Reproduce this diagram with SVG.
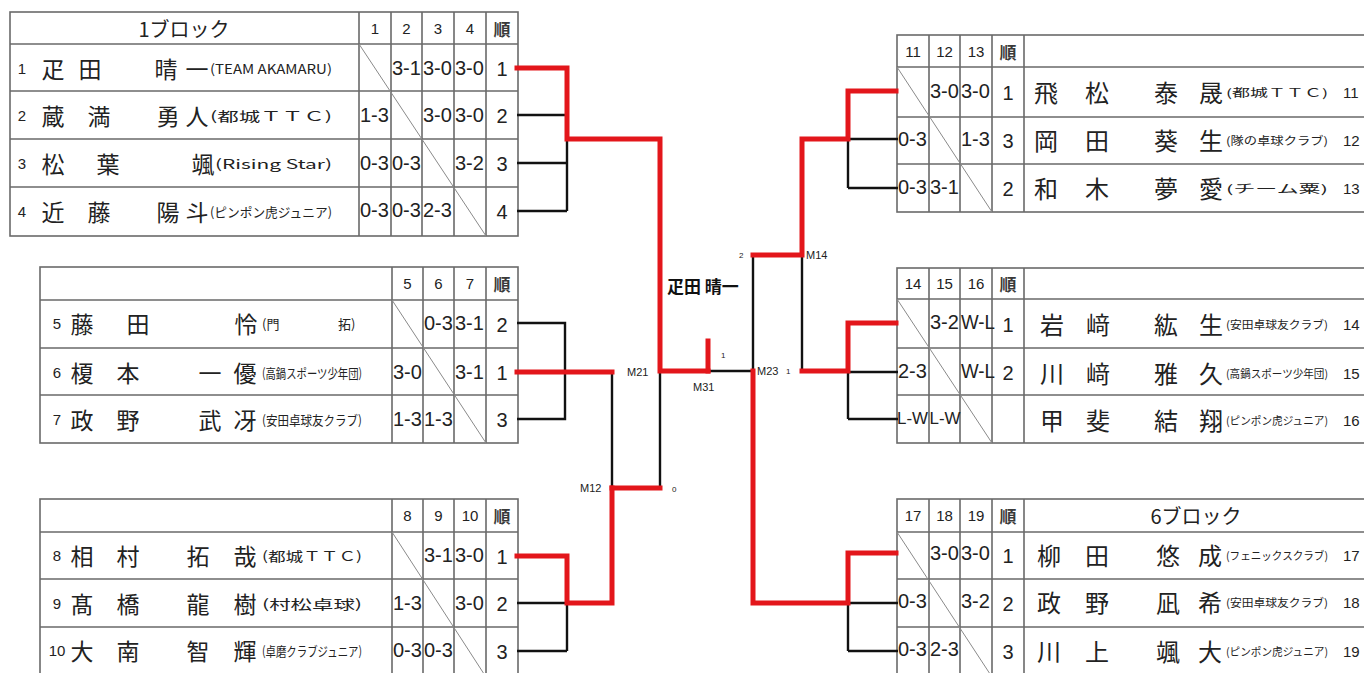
<svg xmlns="http://www.w3.org/2000/svg" width="1364" height="673" viewBox="0 0 1364 673">
<style>
.grid{stroke:#6a6a6a;stroke-width:1.6;fill:none}
.diag{stroke:#8a8a8a;stroke-width:1}
.sc{font-family:"Liberation Sans",Arial,sans-serif;font-size:20px;fill:#222;dominant-baseline:central}
.scw{font-family:"Liberation Sans",Arial,sans-serif;font-size:17px;fill:#222;dominant-baseline:central}
.hd{font-family:"Liberation Sans",Arial,sans-serif;font-size:15px;fill:#222;text-anchor:middle;dominant-baseline:central}
.jun{font-family:"Noto Sans CJK JP",sans-serif;font-size:17px;font-weight:bold;fill:#3a3a3a;text-anchor:middle;dominant-baseline:central}
.rk{font-family:"Liberation Sans",Arial,sans-serif;font-size:20px;fill:#222;text-anchor:middle;dominant-baseline:central}
.num{font-family:"Liberation Sans",Arial,sans-serif;font-size:15px;fill:#222;text-anchor:middle;dominant-baseline:central}
.numr{font-family:"Liberation Sans",Arial,sans-serif;font-size:15px;fill:#222;dominant-baseline:central}
.nm{font-family:"Noto Sans CJK JP",sans-serif;font-size:23px;fill:#222;text-anchor:middle;dominant-baseline:central}
.nmr{font-family:"Noto Sans CJK JP",sans-serif;font-size:24px;fill:#222;text-anchor:middle;dominant-baseline:central}
.af{font-family:"Noto Sans CJK JP",sans-serif;font-size:13px;fill:#222;dominant-baseline:central}
.afr{font-family:"Noto Sans CJK JP",sans-serif;font-size:11px;fill:#222;dominant-baseline:central}
.ttl{font-family:"Noto Sans CJK JP",sans-serif;font-size:20px;fill:#222;text-anchor:middle;dominant-baseline:central}
.red{stroke:#e3161b;stroke-width:5;fill:none;stroke-linecap:square;stroke-linejoin:miter}
.blk{stroke:#111;stroke-width:2.4;fill:none}
.lbl{font-family:"Liberation Sans",Arial,sans-serif;font-size:11px;fill:#222;dominant-baseline:central}
.tiny{font-family:"Liberation Sans",Arial,sans-serif;font-size:8px;fill:#222;dominant-baseline:central}
.win{font-family:"Noto Sans CJK JP",sans-serif;font-size:17px;font-weight:bold;fill:#111;dominant-baseline:central}
</style>
<rect width="1364" height="673" fill="#fff"/>

<g id="block1">
<rect x="10" y="12" width="508" height="224" class="grid"/>
<path class="grid" d="M10 44H518M10 91H518M10 139H518M10 187H518M359 12V236M391 12V236M422 12V236M454 12V236M486 12V236"/>
<line class="diag" x1="359" y1="44" x2="486" y2="236"/>
<text class="ttl" x="184" y="28">1ブロック</text>
<text class="hd" x="375" y="28">1</text><text class="hd" x="406.5" y="28">2</text><text class="hd" x="438" y="28">3</text><text class="hd" x="470" y="28">4</text><text class="jun" x="502" y="28">順</text>
<text class="num" x="22" y="68">1</text><text class="nm" x="53" y="68">疋</text><text class="nm" x="90" y="68">田</text><text class="nm" x="166" y="68">晴</text><text class="nm" x="197" y="68">一</text><text class="af" x="210" y="68" textLength="122" lengthAdjust="spacingAndGlyphs">(TEAM AKAMARU)</text>
<text class="num" x="22" y="115">2</text><text class="nm" x="53" y="115">蔵</text><text class="nm" x="99" y="115">満</text><text class="nm" x="168" y="115">勇</text><text class="nm" x="197" y="115">人</text><text class="af" x="210" y="115" textLength="122" lengthAdjust="spacingAndGlyphs">(都城ＴＴＣ)</text>
<text class="num" x="22" y="163">3</text><text class="nm" x="53" y="163">松</text><text class="nm" x="108" y="163">葉</text><text class="nm" x="203" y="163">颯</text><text class="af" x="215" y="163" textLength="117" lengthAdjust="spacingAndGlyphs">(Rising Star)</text>
<text class="num" x="22" y="211">4</text><text class="nm" x="53" y="211">近</text><text class="nm" x="99" y="211">藤</text><text class="nm" x="168" y="211">陽</text><text class="nm" x="197" y="211">斗</text><text class="af" x="210" y="211" textLength="122" lengthAdjust="spacingAndGlyphs">(ピンポン虎ジュニア)</text>
<text class="sc" x="392" y="68">3-1</text><text class="sc" x="423" y="68">3-0</text><text class="sc" x="455" y="68">3-0</text><text class="rk" x="502" y="69">1</text>
<text class="sc" x="360" y="115">1-3</text><text class="sc" x="423" y="115">3-0</text><text class="sc" x="455" y="115">3-0</text><text class="rk" x="502" y="116">2</text>
<text class="sc" x="360" y="163">0-3</text><text class="sc" x="392" y="163">0-3</text><text class="sc" x="455" y="163">3-2</text><text class="rk" x="502" y="164">3</text>
<text class="sc" x="360" y="210">0-3</text><text class="sc" x="392" y="210">0-3</text><text class="sc" x="423" y="210">2-3</text><text class="rk" x="502" y="212">4</text>
</g>

<g id="block2">
<rect x="40" y="267" width="478" height="176" class="grid"/>
<path class="grid" d="M40 300H518M40 348H518M40 395H518M392 267V443M423 267V443M454 267V443M486 267V443"/>
<line class="diag" x1="392" y1="300" x2="486" y2="443"/>
<text class="hd" x="407.5" y="283">5</text><text class="hd" x="438.5" y="283">6</text><text class="hd" x="470" y="283">7</text><text class="jun" x="502" y="283">順</text>
<text class="num" x="57" y="323">5</text><text class="nm" x="82" y="323">藤</text><text class="nm" x="138" y="323">田</text><text class="nm" x="246" y="323">怜</text><text class="af" x="262" y="323">(門</text><text class="af" x="338" y="323">拓)</text>
<text class="num" x="57" y="372">6</text><text class="nm" x="82" y="372">榎</text><text class="nm" x="128" y="372">本</text><text class="nm" x="210" y="372">一</text><text class="nm" x="245" y="372">優</text><text class="af" x="262" y="372" textLength="100" lengthAdjust="spacingAndGlyphs">(高鍋スポーツ少年団)</text>
<text class="num" x="57" y="419">7</text><text class="nm" x="82" y="419">政</text><text class="nm" x="128" y="419">野</text><text class="nm" x="210" y="419">武</text><text class="nm" x="245" y="419">冴</text><text class="af" x="262" y="419" textLength="100" lengthAdjust="spacingAndGlyphs">(安田卓球友クラブ)</text>
<text class="sc" x="424" y="323">0-3</text><text class="sc" x="455" y="323">3-1</text><text class="rk" x="502" y="325">2</text>
<text class="sc" x="393" y="372">3-0</text><text class="sc" x="455" y="372">3-1</text><text class="rk" x="502" y="373">1</text>
<text class="sc" x="393" y="419">1-3</text><text class="sc" x="424" y="419">1-3</text><text class="rk" x="502" y="420">3</text>
</g>

<g id="block3">
<rect x="40" y="499" width="478" height="178" class="grid"/>
<path class="grid" d="M40 532H518M40 579H518M40 627H518M392 499V677M423 499V677M454 499V677M486 499V677"/>
<line class="diag" x1="392" y1="532" x2="486" y2="677"/>
<text class="hd" x="407.5" y="515">8</text><text class="hd" x="438.5" y="515">9</text><text class="hd" x="470" y="515">10</text><text class="jun" x="502" y="515">順</text>
<text class="num" x="57" y="555">8</text><text class="nm" x="82" y="555">相</text><text class="nm" x="128" y="555">村</text><text class="nm" x="198" y="555">拓</text><text class="nm" x="245" y="555">哉</text><text class="af" x="262" y="555" textLength="100" lengthAdjust="spacingAndGlyphs">(都城ＴＴＣ)</text>
<text class="num" x="57" y="603">9</text><text class="nm" x="82" y="603">髙</text><text class="nm" x="128" y="603">橋</text><text class="nm" x="198" y="603">龍</text><text class="nm" x="245" y="603">樹</text><text class="af" x="262" y="603" textLength="100" lengthAdjust="spacingAndGlyphs">(村松卓球)</text>
<text class="num" x="57" y="650">10</text><text class="nm" x="82" y="650">大</text><text class="nm" x="128" y="650">南</text><text class="nm" x="198" y="650">智</text><text class="nm" x="245" y="650">輝</text><text class="af" x="262" y="650" textLength="100" lengthAdjust="spacingAndGlyphs">(卓磨クラブジュニア)</text>
<text class="sc" x="424" y="555">3-1</text><text class="sc" x="455" y="555">3-0</text><text class="rk" x="502" y="557">1</text>
<text class="sc" x="393" y="603">1-3</text><text class="sc" x="455" y="603">3-0</text><text class="rk" x="502" y="604">2</text>
<text class="sc" x="393" y="650">0-3</text><text class="sc" x="424" y="650">0-3</text><text class="rk" x="502" y="652">3</text>
</g>

<g id="block4">
<rect x="897" y="35" width="475" height="177" class="grid"/>
<path class="grid" d="M897 67H1372M897 117H1372M897 164H1372M929 35V212M960 35V212M992 35V212M1024 35V212"/>
<line class="diag" x1="897" y1="67" x2="992" y2="212"/>
<text class="hd" x="913" y="51">11</text><text class="hd" x="944.5" y="51">12</text><text class="hd" x="976" y="51">13</text><text class="jun" x="1008" y="51">順</text>
<text class="sc" x="930" y="91">3-0</text><text class="sc" x="961" y="91">3-0</text><text class="rk" x="1008" y="93">1</text>
<text class="sc" x="898" y="139">0-3</text><text class="sc" x="961" y="139">1-3</text><text class="rk" x="1008" y="141">3</text>
<text class="sc" x="898" y="187">0-3</text><text class="sc" x="930" y="187">3-1</text><text class="rk" x="1008" y="189">2</text>
<text class="nmr" x="1046" y="91">飛</text><text class="nmr" x="1097" y="91">松</text><text class="nmr" x="1166" y="91">泰</text><text class="nmr" x="1211" y="91">晟</text><text class="afr" x="1226" y="92" textLength="102" lengthAdjust="spacingAndGlyphs">(都城ＴＴＣ)</text><text class="numr" x="1343" y="92">11</text>
<text class="nmr" x="1046" y="139">岡</text><text class="nmr" x="1097" y="139">田</text><text class="nmr" x="1166" y="139">葵</text><text class="nmr" x="1211" y="139">生</text><text class="afr" x="1226" y="140" textLength="102" lengthAdjust="spacingAndGlyphs">(隊の卓球クラブ)</text><text class="numr" x="1343" y="140">12</text>
<text class="nmr" x="1046" y="187">和</text><text class="nmr" x="1097" y="187">木</text><text class="nmr" x="1166" y="187">夢</text><text class="nmr" x="1211" y="187">愛</text><text class="afr" x="1226" y="188" textLength="102" lengthAdjust="spacingAndGlyphs">(チーム粟)</text><text class="numr" x="1343" y="188">13</text>
</g>

<g id="block5">
<rect x="897" y="268" width="475" height="175" class="grid"/>
<path class="grid" d="M897 299H1372M897 348H1372M897 395H1372M929 268V443M960 268V443M992 268V443M1024 268V443"/>
<line class="diag" x1="897" y1="299" x2="992" y2="443"/>
<text class="hd" x="913" y="283.5">14</text><text class="hd" x="944.5" y="283.5">15</text><text class="hd" x="976" y="283.5">16</text><text class="jun" x="1008" y="283.5">順</text>
<text class="sc" x="930" y="322">3-2</text><text class="sc" x="961" y="322" textLength="34" lengthAdjust="spacingAndGlyphs">W-L</text><text class="rk" x="1008" y="325">1</text>
<text class="sc" x="898" y="371">2-3</text><text class="sc" x="961" y="371" textLength="34" lengthAdjust="spacingAndGlyphs">W-L</text><text class="rk" x="1008" y="373">2</text>
<text class="scw" x="897" y="418" textLength="31" lengthAdjust="spacingAndGlyphs">L-W</text><text class="scw" x="929.5" y="418" textLength="31" lengthAdjust="spacingAndGlyphs">L-W</text>
<text class="nmr" x="1052" y="323">岩</text><text class="nmr" x="1098" y="323">﨑</text><text class="nmr" x="1166" y="323">紘</text><text class="nmr" x="1211" y="323">生</text><text class="afr" x="1226" y="324" textLength="102" lengthAdjust="spacingAndGlyphs">(安田卓球友クラブ)</text><text class="numr" x="1343" y="324">14</text>
<text class="nmr" x="1052" y="372">川</text><text class="nmr" x="1098" y="372">﨑</text><text class="nmr" x="1166" y="372">雅</text><text class="nmr" x="1211" y="372">久</text><text class="afr" x="1226" y="373" textLength="102" lengthAdjust="spacingAndGlyphs">(高鍋スポーツ少年団)</text><text class="numr" x="1343" y="373">15</text>
<text class="nmr" x="1052" y="419">甲</text><text class="nmr" x="1098" y="419">斐</text><text class="nmr" x="1166" y="419">結</text><text class="nmr" x="1211" y="419">翔</text><text class="afr" x="1226" y="420" textLength="102" lengthAdjust="spacingAndGlyphs">(ピンポン虎ジュニア)</text><text class="numr" x="1343" y="420">16</text>
</g>

<g id="block6">
<rect x="897" y="499" width="475" height="178" class="grid"/>
<path class="grid" d="M897 532H1372M897 579H1372M897 627H1372M929 499V677M960 499V677M992 499V677M1024 499V677"/>
<line class="diag" x1="897" y1="532" x2="992" y2="677"/>
<text class="hd" x="913" y="515">17</text><text class="hd" x="944.5" y="515">18</text><text class="hd" x="976" y="515">19</text><text class="jun" x="1008" y="515">順</text>
<text class="ttl" x="1196" y="515">6ブロック</text>
<text class="sc" x="930" y="553">3-0</text><text class="sc" x="961" y="553">3-0</text><text class="rk" x="1008" y="556">1</text>
<text class="sc" x="898" y="601">0-3</text><text class="sc" x="961" y="601">3-2</text><text class="rk" x="1008" y="604">2</text>
<text class="sc" x="898" y="649">0-3</text><text class="sc" x="930" y="649">2-3</text><text class="rk" x="1008" y="652">3</text>
<text class="nmr" x="1049" y="554">柳</text><text class="nmr" x="1097" y="554">田</text><text class="nmr" x="1168" y="554">悠</text><text class="nmr" x="1210" y="554">成</text><text class="afr" x="1226" y="555" textLength="102" lengthAdjust="spacingAndGlyphs">(フェニックスクラブ)</text><text class="numr" x="1343" y="555">17</text>
<text class="nmr" x="1049" y="601">政</text><text class="nmr" x="1097" y="601">野</text><text class="nmr" x="1168" y="601">凪</text><text class="nmr" x="1210" y="601">希</text><text class="afr" x="1226" y="602" textLength="102" lengthAdjust="spacingAndGlyphs">(安田卓球友クラブ)</text><text class="numr" x="1343" y="602">18</text>
<text class="nmr" x="1049" y="650">川</text><text class="nmr" x="1097" y="650">上</text><text class="nmr" x="1168" y="650">颯</text><text class="nmr" x="1210" y="650">大</text><text class="afr" x="1226" y="651" textLength="102" lengthAdjust="spacingAndGlyphs">(ピンポン虎ジュニア)</text><text class="numr" x="1343" y="651">19</text>
</g>

<g id="connectors">
<path class="blk" d="M517 115H567M517 163H567M517 211H567M567 139V211"/>
<path class="blk" d="M517 323H565V419H517"/>
<path class="blk" d="M612 372V488M660 372V488"/>
<path class="blk" d="M517 603H567M517 651H567M567 603V651"/>
<path class="blk" d="M708 371H753M753 255V371M802 255V371"/>
<path class="blk" d="M848 139H898M848 188H898M848 139V188"/>
<path class="blk" d="M848 372H898M848 419H898M848 372V419"/>
<path class="blk" d="M848 603H898M848 651H898M848 603V651"/>
<path class="red" d="M517 68H567V139H660V371H708"/>
<path class="red" d="M708 341V371"/>
<path class="red" d="M517 372H612"/>
<path class="red" d="M612 488H660"/>
<path class="red" d="M517 556H567V603H612V488"/>
<path class="red" d="M753 255H802V139H848V91H896"/>
<path class="red" d="M802 371H848V323H896"/>
<path class="red" d="M753 371V603H848V553H896"/>
</g>

<g id="labels">
<text class="lbl" x="627" y="372">M21</text>
<text class="lbl" x="580" y="488">M12</text>
<text class="tiny" x="672" y="489">0</text>
<text class="lbl" x="693" y="387">M31</text>
<text class="tiny" x="721" y="355">1</text>
<text class="tiny" x="739" y="255">2</text>
<text class="lbl" x="806" y="255">M14</text>
<text class="lbl" x="757" y="371">M23</text>
<text class="tiny" x="786" y="371">1</text>
<text class="win" x="667" y="285">疋田 晴一</text>
</g>
</svg>
